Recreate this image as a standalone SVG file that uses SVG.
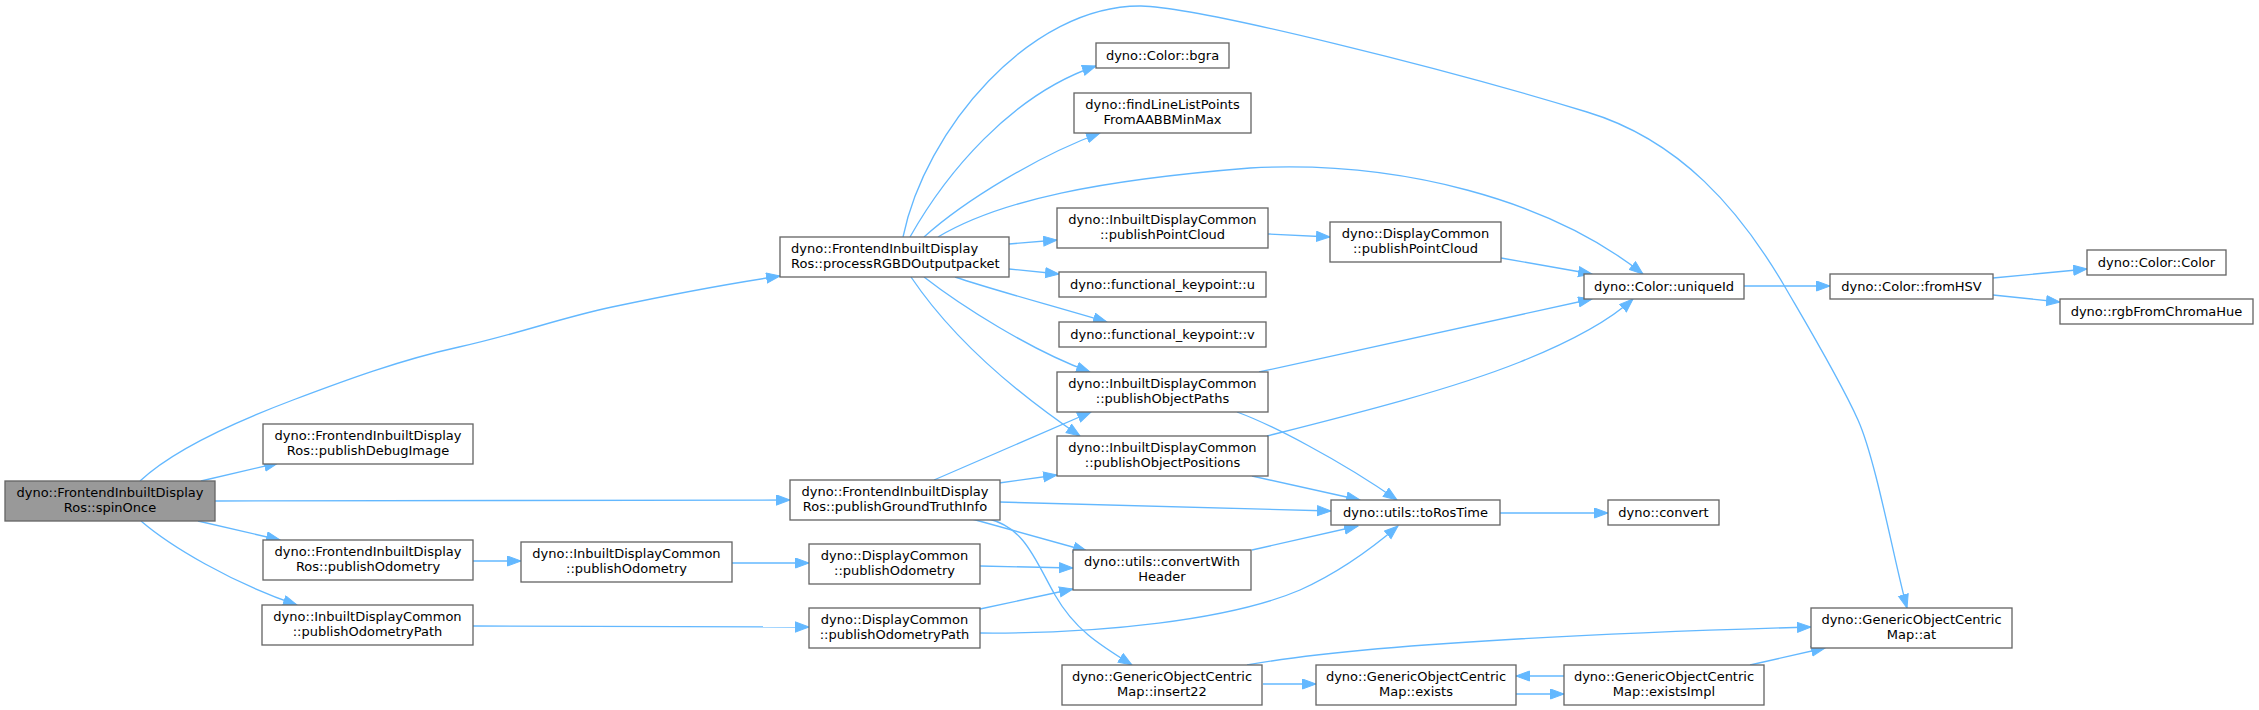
<svg xmlns="http://www.w3.org/2000/svg" width="2259" height="710" viewBox="0 0 2259 710">
<defs>
<style>
.n rect{fill:#ffffff;stroke:#666666;stroke-width:1.33}
.n.root rect{fill:#999999}
.n text{font-family:"DejaVu Sans","Liberation Sans",sans-serif;font-size:13px;fill:#000000;text-anchor:middle}
.n text.l{text-anchor:start}
.e path{fill:none;stroke:#63b8ff;stroke-width:1.33;marker-end:url(#ah)}
</style>
<marker id="ah" markerUnits="userSpaceOnUse" markerWidth="16" markerHeight="12" refX="14" refY="5.5" orient="auto">
<path d="M0.5,0.5 L14,5.5 L0.5,10.5 Z" fill="#63b8ff" stroke="#63b8ff" stroke-width="1"/>
</marker>
</defs>
<rect width="2259" height="710" fill="#ffffff"/>
<g id="edges" class="e">
<path d="M140,481 C175,448 240,420 293,400 S400,360 459,347 S560,318 612,307 S720,285 780,276"/>
<path d="M201,481 L278,463"/>
<path d="M215,501 L790,500"/>
<path d="M198,521 L280,540"/>
<path d="M141,521 C170,546 230,582 297,605"/>
<path d="M473,561 L521,561"/>
<path d="M732,563 L809,563"/>
<path d="M473,626 L809,627"/>
<path d="M910,237 C945,175 1010,95 1096,66"/>
<path d="M924,237 C965,200 1040,155 1100,133"/>
<path d="M1009,244 L1057,240"/>
<path d="M1009,269 L1059,274"/>
<path d="M955,277 C990,289 1050,305 1107,322"/>
<path d="M924,277 C960,305 1030,350 1090,372"/>
<path d="M911,277 C940,320 990,375 1080,436"/>
<path d="M938,237 C1000,200 1100,180 1250,168 C1400,160 1550,200 1643,274"/>
<path d="M903,237 C925,130 1030,5 1141,6 C1200,7 1450,70 1587,112 C1680,140 1740,210 1785,287 C1810,330 1840,380 1858,420 C1876,460 1895,565 1907,608"/>
<path d="M1268,234 L1330,237"/>
<path d="M1501,258 L1592,274"/>
<path d="M1259,372 L1592,299"/>
<path d="M1237,412 C1270,424 1340,460 1397,500"/>
<path d="M1267,436 C1350,415 1450,390 1520,362 C1570,342 1610,320 1633,299"/>
<path d="M1252,476 L1360,500"/>
<path d="M934,480 L1091,412"/>
<path d="M999,483 L1057,475"/>
<path d="M999,502 L1331,511"/>
<path d="M972,519 L1087,551"/>
<path d="M989,519 C1025,528 1035,560 1055,595 C1075,630 1100,645 1132,665"/>
<path d="M980,566 L1073,568"/>
<path d="M980,609 L1073,589"/>
<path d="M980,633 C1100,634 1230,620 1300,590 C1340,572 1370,550 1398,526"/>
<path d="M1252,550 L1358,526"/>
<path d="M1500,513 L1608,513"/>
<path d="M1744,286 L1830,286"/>
<path d="M1993,278 L2087,269"/>
<path d="M1993,295 L2060,302"/>
<path d="M1263,684 L1316,684"/>
<path d="M1247,665 C1330,650 1500,636 1811,627"/>
<path d="M1516,694 L1564,694"/>
<path d="M1564,676 L1516,676"/>
<path d="M1750,665 L1825,648"/>
</g>
<g id="spinOnce" class="n root"><rect x="5" y="481" width="210" height="40"/><text x="110" y="497">dyno::FrontendInbuiltDisplay</text><text x="110" y="511.5">Ros::spinOnce</text></g>
<g id="processRGBD" class="n"><rect x="780" y="237" width="229" height="40"/><text class="l" x="791" y="253">dyno::FrontendInbuiltDisplay</text><text class="l" x="791" y="267.5">Ros::processRGBDOutputpacket</text></g>
<g id="publishDebugImage" class="n"><rect x="263" y="424" width="210" height="40"/><text x="368" y="440">dyno::FrontendInbuiltDisplay</text><text x="368" y="454.5">Ros::publishDebugImage</text></g>
<g id="publishGroundTruthInfo" class="n"><rect x="790" y="480" width="210" height="40"/><text x="895" y="496">dyno::FrontendInbuiltDisplay</text><text x="895" y="510.5">Ros::publishGroundTruthInfo</text></g>
<g id="frontendPublishOdometry" class="n"><rect x="263" y="540" width="210" height="40"/><text x="368" y="556">dyno::FrontendInbuiltDisplay</text><text x="368" y="570.5">Ros::publishOdometry</text></g>
<g id="inbuiltPublishOdometryPath" class="n"><rect x="262" y="605" width="211" height="40"/><text x="367.5" y="621">dyno::InbuiltDisplayCommon</text><text x="367.5" y="635.5">::publishOdometryPath</text></g>
<g id="inbuiltPublishOdometry" class="n"><rect x="521" y="542" width="211" height="40"/><text x="626.5" y="558">dyno::InbuiltDisplayCommon</text><text x="626.5" y="572.5">::publishOdometry</text></g>
<g id="displayPublishOdometry" class="n"><rect x="809" y="544" width="171" height="40"/><text x="894.5" y="560">dyno::DisplayCommon</text><text x="894.5" y="574.5">::publishOdometry</text></g>
<g id="displayPublishOdometryPath" class="n"><rect x="809" y="608" width="171" height="40"/><text x="894.5" y="624">dyno::DisplayCommon</text><text x="894.5" y="638.5">::publishOdometryPath</text></g>
<g id="bgra" class="n"><rect x="1096" y="43" width="133" height="25"/><text x="1162.5" y="60">dyno::Color::bgra</text></g>
<g id="findLineList" class="n"><rect x="1074" y="93" width="177" height="40"/><text x="1162.5" y="109">dyno::findLineListPoints</text><text x="1162.5" y="123.5">FromAABBMinMax</text></g>
<g id="inbuiltPublishPointCloud" class="n"><rect x="1057" y="208" width="211" height="40"/><text x="1162.5" y="224">dyno::InbuiltDisplayCommon</text><text x="1162.5" y="238.5">::publishPointCloud</text></g>
<g id="keypointU" class="n"><rect x="1059" y="272" width="207" height="25"/><text x="1162.5" y="289">dyno::functional_keypoint::u</text></g>
<g id="keypointV" class="n"><rect x="1059" y="322" width="207" height="25"/><text x="1162.5" y="339">dyno::functional_keypoint::v</text></g>
<g id="publishObjectPaths" class="n"><rect x="1057" y="372" width="211" height="40"/><text x="1162.5" y="388">dyno::InbuiltDisplayCommon</text><text x="1162.5" y="402.5">::publishObjectPaths</text></g>
<g id="publishObjectPositions" class="n"><rect x="1057" y="436" width="211" height="40"/><text x="1162.5" y="452">dyno::InbuiltDisplayCommon</text><text x="1162.5" y="466.5">::publishObjectPositions</text></g>
<g id="convertWithHeader" class="n"><rect x="1073" y="550" width="178" height="40"/><text x="1162" y="566">dyno::utils::convertWith</text><text x="1162" y="580.5">Header</text></g>
<g id="insert22" class="n"><rect x="1062" y="665" width="200" height="40"/><text x="1162" y="681">dyno::GenericObjectCentric</text><text x="1162" y="695.5">Map::insert22</text></g>
<g id="displayPublishPointCloud" class="n"><rect x="1330" y="222" width="171" height="40"/><text x="1415.5" y="238">dyno::DisplayCommon</text><text x="1415.5" y="252.5">::publishPointCloud</text></g>
<g id="toRosTime" class="n"><rect x="1331" y="500" width="169" height="25"/><text x="1415.5" y="517">dyno::utils::toRosTime</text></g>
<g id="exists" class="n"><rect x="1316" y="665" width="200" height="40"/><text x="1416" y="681">dyno::GenericObjectCentric</text><text x="1416" y="695.5">Map::exists</text></g>
<g id="uniqueId" class="n"><rect x="1584" y="274" width="160" height="25"/><text x="1664" y="291">dyno::Color::uniqueId</text></g>
<g id="convert" class="n"><rect x="1608" y="500" width="111" height="25"/><text x="1663.5" y="517">dyno::convert</text></g>
<g id="existsImpl" class="n"><rect x="1564" y="665" width="200" height="40"/><text x="1664" y="681">dyno::GenericObjectCentric</text><text x="1664" y="695.5">Map::existsImpl</text></g>
<g id="fromHSV" class="n"><rect x="1830" y="274" width="163" height="25"/><text x="1911.5" y="291">dyno::Color::fromHSV</text></g>
<g id="at" class="n"><rect x="1811" y="608" width="201" height="40"/><text x="1911.5" y="624">dyno::GenericObjectCentric</text><text x="1911.5" y="638.5">Map::at</text></g>
<g id="colorColor" class="n"><rect x="2087" y="250" width="139" height="25"/><text x="2156.5" y="267">dyno::Color::Color</text></g>
<g id="rgbFromChromaHue" class="n"><rect x="2060" y="299" width="193" height="25"/><text x="2156.5" y="316">dyno::rgbFromChromaHue</text></g>
</svg>
